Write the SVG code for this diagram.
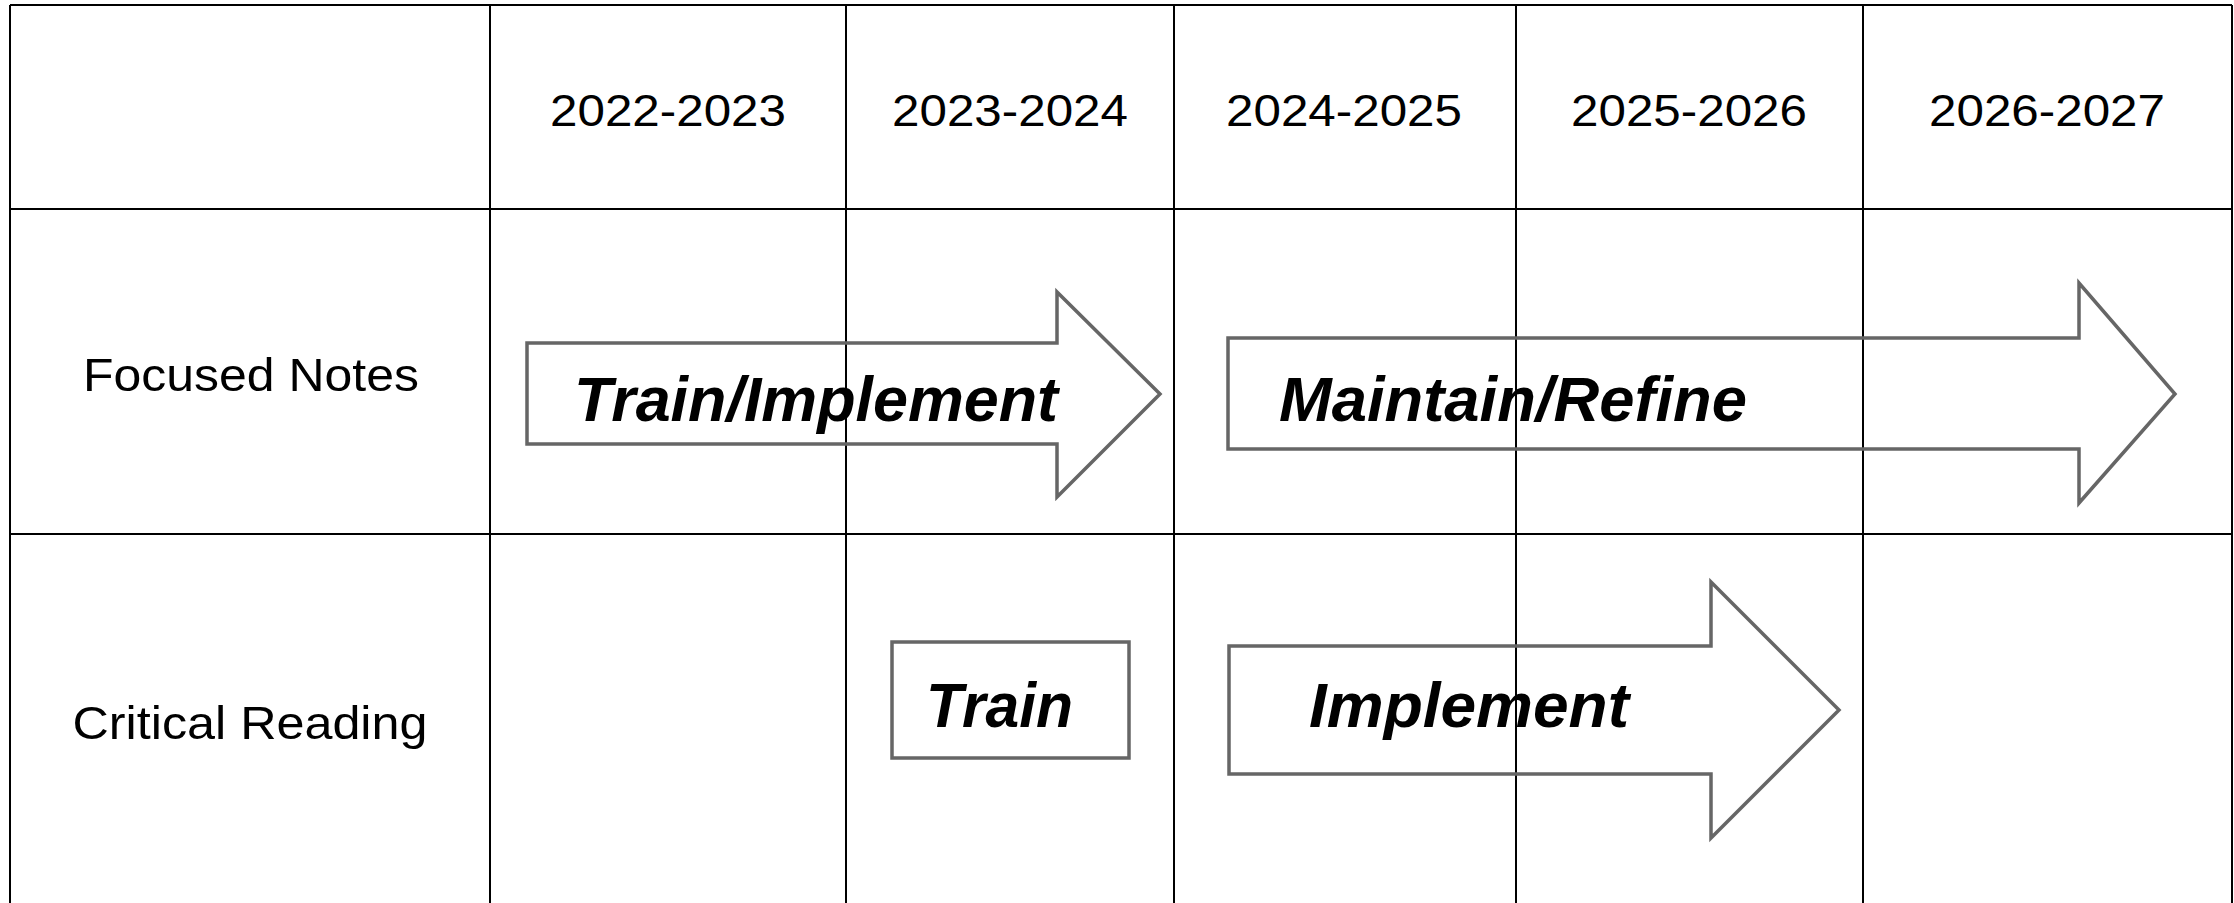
<svg xmlns="http://www.w3.org/2000/svg" width="2234" height="903" viewBox="0 0 2234 903">
<style>
.grid{stroke:#000;stroke-width:2;fill:none}
.hdr{font-family:"Liberation Sans",Arial,sans-serif;font-size:45px;fill:#000;text-anchor:middle}
.row{font-family:"Liberation Sans",Arial,sans-serif;font-size:47px;fill:#000;text-anchor:middle}
.shape{fill:none;stroke:#666;stroke-width:3.5;stroke-linejoin:miter}
.lbl{font-family:"Liberation Sans",Arial,sans-serif;font-size:63px;font-weight:bold;font-style:italic;fill:#000}
</style>
<rect width="2234" height="903" fill="#fff"/>
<g id="table">
<path class="grid" d="M10,5 V903 M490,5 V903 M846,5 V903 M1174,5 V903 M1516,5 V903 M1863,5 V903 M2232,5 V903 M10,5 H2232 M10,209 H2232 M10,534 H2232"/>
</g>
<g id="headers">
<text class="hdr" x="668" y="126" textLength="236" lengthAdjust="spacingAndGlyphs">2022-2023</text>
<text class="hdr" x="1010" y="126" textLength="236" lengthAdjust="spacingAndGlyphs">2023-2024</text>
<text class="hdr" x="1344" y="126" textLength="236" lengthAdjust="spacingAndGlyphs">2024-2025</text>
<text class="hdr" x="1689" y="126" textLength="236" lengthAdjust="spacingAndGlyphs">2025-2026</text>
<text class="hdr" x="2047" y="126" textLength="236" lengthAdjust="spacingAndGlyphs">2026-2027</text>
</g>
<g id="row-focused-notes">
<text class="row" x="251" y="391" textLength="336" lengthAdjust="spacingAndGlyphs">Focused Notes</text>
</g>
<g id="row-critical-reading">
<text class="row" x="250" y="739" textLength="355" lengthAdjust="spacingAndGlyphs">Critical Reading</text>
</g>
<g id="node-train-implement">
<polygon class="shape" points="527,343 1057,343 1057,292 1160,394 1057,497 1057,444 527,444"/>
<text class="lbl" x="574" y="421" textLength="484" lengthAdjust="spacingAndGlyphs">Train/Implement</text>
</g>
<g id="node-maintain-refine">
<polygon class="shape" points="1228,338 2079,338 2079,283 2175,394 2079,503 2079,449 1228,449"/>
<text class="lbl" x="1279" y="421" textLength="468" lengthAdjust="spacingAndGlyphs">Maintain/Refine</text>
</g>
<g id="node-train">
<rect class="shape" x="892" y="642" width="237" height="116"/>
<text class="lbl" x="926" y="727" textLength="147" lengthAdjust="spacingAndGlyphs">Train</text>
</g>
<g id="node-implement">
<polygon class="shape" points="1229,646 1711,646 1711,582 1839,710 1711,838 1711,774 1229,774"/>
<text class="lbl" x="1309" y="727" textLength="320" lengthAdjust="spacingAndGlyphs">Implement</text>
</g>
<g id="connectors"></g>
</svg>
